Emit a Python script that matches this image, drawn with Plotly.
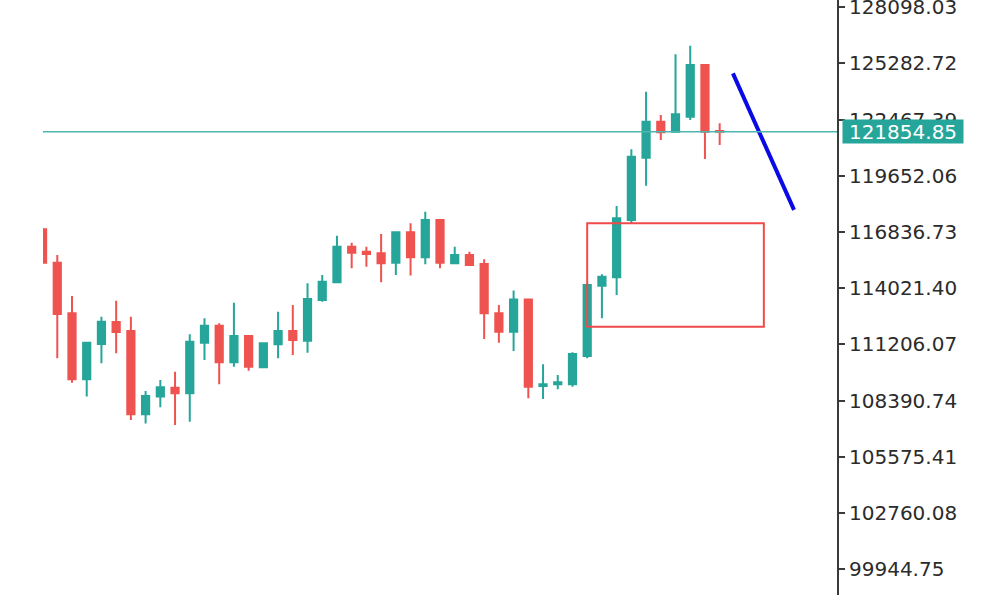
import plotly.graph_objects as go

# ---- data ----
bar_index = list(range(47))
open_ = [116970, 115297, 112760, 109460, 111225, 112330, 111880, 107705, 108590, 109040,
         108760, 111290, 112140, 110310, 111630, 110060, 111210, 111880, 111390, 113430,
         114315, 116100, 115850, 115770, 115300, 116820, 115570, 117435, 115270, 115680,
         115230, 112760, 111840, 113460, 109120, 109210, 109210, 110620, 114145, 114570,
         117435, 120555, 122360, 121860, 122610, 125200, 121890]
high = [117030, 115680, 113630, 111340, 112590, 113390, 112590, 108870, 109420, 109840,
        111710, 112510, 112260, 113290, 111680, 111300, 112840, 113180, 114265, 114680,
        116650, 116300, 116100, 116730, 116840, 117270, 117850, 117460, 116100, 115850,
        115470, 113180, 113900, 113510, 110210, 109670, 110810, 114265, 114715, 118135,
        120975, 123860, 122695, 125735, 126165, 125235, 122280]
low = [115250, 110510, 109290, 108590, 110260, 110760, 107420, 107250, 108055, 107170,
       107330, 110420, 109210, 110090, 109890, 110010, 110510, 110670, 110790, 113340,
       114280, 115020, 115100, 114315, 114680, 114650, 115220, 115020, 115230, 115130,
       111480, 111290, 110875, 108510, 108470, 108960, 109090, 110510, 112510, 113680,
       117270, 119150, 121440, 121830, 122440, 120490, 121190]
close = [115297, 112730, 109460, 111290, 112340, 111830, 107705, 108620, 109060, 108760,
         111340, 112140, 110310, 111630, 110090, 111260, 111880, 111430, 113480, 114345,
         116100, 115800, 115730, 115270, 116820, 115570, 117435, 115300, 115680, 115180,
         112760, 111840, 113460, 109090, 109210, 109310, 110725, 114180, 114595, 117520,
         120605, 122360, 121830, 122730, 125200, 121855, 121854.85]

y_tick_vals = [99944.75, 102760.08, 105575.41, 108390.74, 111206.07, 114021.40,
               116836.73, 119652.06, 122467.39, 125282.72, 128098.03]
y_tick_text = ["99944.75", "102760.08", "105575.41", "108390.74", "111206.07", "114021.40",
               "116836.73", "119652.06", "122467.39", "125282.72", "128098.03"]

last_price = 121854.85
last_price_text = "121854.85"

zone_x = [37, 49]
zone_y = [112090, 117270]

trend_x = [46.9, 51.05]
trend_y = [124780, 117940]

UP = "#26a69a"
DOWN = "#ef5350"

fig = go.Figure()
fig.add_trace(go.Candlestick(
    x=bar_index, open=open_, high=high, low=low, close=close,
    increasing=dict(line=dict(color=UP, width=2), fillcolor=UP),
    decreasing=dict(line=dict(color=DOWN, width=2), fillcolor=DOWN),
    showlegend=False, hoverinfo="skip",
))

# trend line
fig.add_trace(go.Scatter(
    x=trend_x, y=trend_y, mode="lines",
    line=dict(color="#0a0ae6", width=4),
    showlegend=False, hoverinfo="skip", cliponaxis=False,
))

# last price line
fig.add_shape(type="line", xref="paper", x0=0, x1=1, yref="y", y0=last_price, y1=last_price,
              line=dict(color="#4fb6ad", width=1.5), layer="above")

# zone rectangle
fig.add_shape(type="rect", xref="x", yref="y", x0=zone_x[0], x1=zone_x[1],
              y0=zone_y[0], y1=zone_y[1],
              line=dict(color="#f04a4a", width=2), fillcolor="rgba(0,0,0,0)")

# last price label
fig.add_annotation(
    xref="paper", x=1, yref="y", y=last_price, text=last_price_text,
    xanchor="left", yanchor="middle", showarrow=False, xshift=5,
    font=dict(family="DejaVu Sans", size=20, color="white"),
    bgcolor=UP, borderpad=1, width=118, height=21,
)

fig.update_layout(
    width=1000, height=600,
    margin=dict(l=43, r=163, t=0, b=5, autoexpand=False),
    paper_bgcolor="white", plot_bgcolor="white",
    font=dict(family="DejaVu Sans", size=20, color="#2b2b2b"),
    xaxis=dict(range=[0.03, 53.97], showgrid=False, zeroline=False, showticklabels=False,
               ticks="", showline=False, rangeslider=dict(visible=False), fixedrange=True,
               automargin=False),
    yaxis=dict(side="right", range=[98655, 128453], tickvals=y_tick_vals, ticktext=y_tick_text,
               showgrid=False, zeroline=False, showline=True, linecolor="#3a3a3a", linewidth=2,
               ticks="outside", ticklen=6, tickwidth=1.5, tickcolor="#3a3a3a",
               ticklabeloverflow="allow", automargin=False,
               tickfont=dict(family="DejaVu Sans", size=20, color="#2b2b2b"), fixedrange=True),
)

fig.write_html("out.html", config={"displayModeBar": False},
               post_script="document.body.style.margin='0';document.body.style.overflow='hidden';")
